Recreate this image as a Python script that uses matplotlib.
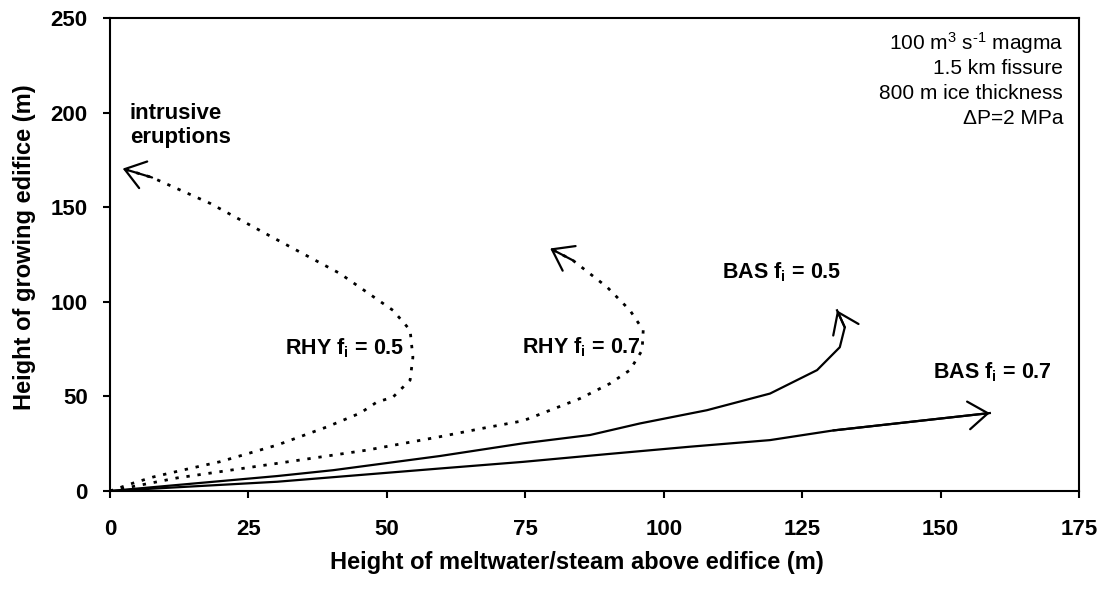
import matplotlib
matplotlib.use("Agg")
import matplotlib.pyplot as plt

plt.rcParams['font.family'] = ['Liberation Sans', 'DejaVu Sans']
plt.rcParams['mathtext.fontset'] = 'custom'
plt.rcParams['mathtext.rm'] = 'Liberation Sans'
plt.rcParams['mathtext.it'] = 'Liberation Sans'
plt.rcParams['mathtext.bf'] = 'Liberation Sans:bold'

# curves (x = meltwater height, y = edifice height)
rhy05_x = [0, 4.2, 7.8, 13.2, 19.9, 30.2, 39.2, 45.2, 48.2, 51.1, 54.2, 54.7, 54.2, 51.1, 41.5, 29.4, 18.1, 7.6, 2.3]
rhy05_y = [0, 4.2, 7.4, 11.1, 15.5, 24.3, 33.9, 41.2, 47.0, 49.6, 58.6, 70.7, 85.0, 95.5, 115.0, 134.0, 152.0, 165.7, 170.4]

rhy07_x = [0, 12.1, 30.2, 46.4, 59.6, 67.4, 74.6, 79.5, 84.9, 90.3, 93.9, 96.1, 96.3, 93.9, 89.8, 83.6, 79.5]
rhy07_y = [0, 6.9, 14.6, 21.6, 28.7, 33.2, 37.1, 42.7, 48.9, 56.8, 63.9, 74.4, 85.0, 95.5, 107.7, 121.9, 128.2]

bas05_x = [0, 30.2, 40.3, 59.6, 74.6, 86.7, 95.7, 107.8, 119.2, 127.7, 131.8, 132.7, 131.3]
bas05_y = [0, 7.9, 11.0, 18.5, 25.2, 29.6, 35.7, 42.7, 51.5, 63.9, 76.0, 86.5, 95.5]

bas07_x = [0, 30.2, 59.6, 74.6, 89.8, 104.7, 119.2, 130.6, 158.9]
bas07_y = [0, 4.9, 11.9, 15.4, 19.5, 23.4, 26.9, 32.0, 41.2]

x_ticks = [0, 25, 50, 75, 100, 125, 150, 175]
y_ticks = [0, 50, 100, 150, 200, 250]

info_lines = [r'100 m$^{3}$ s$^{\text{-1}}$ magma', '1.5 km fissure', '800 m ice thickness', '\u0394P=2 MPa']

fig = plt.figure(figsize=(11.04, 5.9), dpi=100)
ax = fig.add_axes([110 / 1104, 1 - 491 / 590, 969 / 1104, 473 / 590])

dotted = (0, (1.2, 2.8))
arrow = dict(arrowstyle='->,head_length=1.4,head_width=1.0', lw=1.6, color='k',
             mutation_scale=10, shrinkA=0, shrinkB=0, linestyle='-')

for xs, ys, ls in [(rhy05_x, rhy05_y, dotted), (rhy07_x, rhy07_y, dotted),
                   (bas05_x, bas05_y, '-'), (bas07_x, bas07_y, '-')]:
    ax.plot(xs, ys, color='k', lw=2 if ls == dotted else 1.6, linestyle=ls)
    ax.annotate('', xy=(xs[-1], ys[-1]), xytext=(xs[-2], ys[-2]), arrowprops=arrow)

lab = dict(fontsize=15.5, fontweight='bold', va='center', ha='left')
ax.text(3.6, 205, 'intrusive\neruptions', fontsize=16, fontweight='bold',
        va='top', ha='left', linespacing=1.2)
ax.text(31.6, 75.5, r'RHY f$_{\mathbf{i}}$ = 0.5', **lab)
ax.text(74.4, 76, r'RHY f$_{\mathbf{i}}$ = 0.7', **lab)
ax.text(110.5, 115.6, r'BAS f$_{\mathbf{i}}$ = 0.5', **lab)
ax.text(148.6, 62.8, r'BAS f$_{\mathbf{i}}$ = 0.7', **lab)

for i, line in enumerate(info_lines):
    ax.text(0.9835, 0.947 - i * 0.053, line, transform=ax.transAxes,
            ha='right', va='center', fontsize=15)

ax.set_xlim(0, 175)
ax.set_ylim(0, 250)
ax.set_xticks(x_ticks)
ax.set_yticks(y_ticks)
ax.tick_params(direction='out', length=5, width=1.5, labelsize=16)
ax.tick_params(axis='x', pad=15)
ax.tick_params(axis='y', pad=11)
for t in ax.get_xticklabels() + ax.get_yticklabels():
    t.set_fontweight('bold')
for s in ax.spines.values():
    s.set_linewidth(1.5)

ax.set_xlabel('Height of meltwater/steam above edifice (m)', fontsize=17, fontweight='bold')
ax.set_ylabel('Height of growing edifice (m)', fontsize=17, fontweight='bold')
ax.xaxis.set_label_coords((577 - 110) / 969, -(563 - 491) / 473)
ax.yaxis.set_label_coords(-(110 - 25) / 969, (491 - 247) / 473)
ax.xaxis.label.set_va('center')
ax.yaxis.label.set_va('center')

fig.savefig('out.png', dpi=100)
